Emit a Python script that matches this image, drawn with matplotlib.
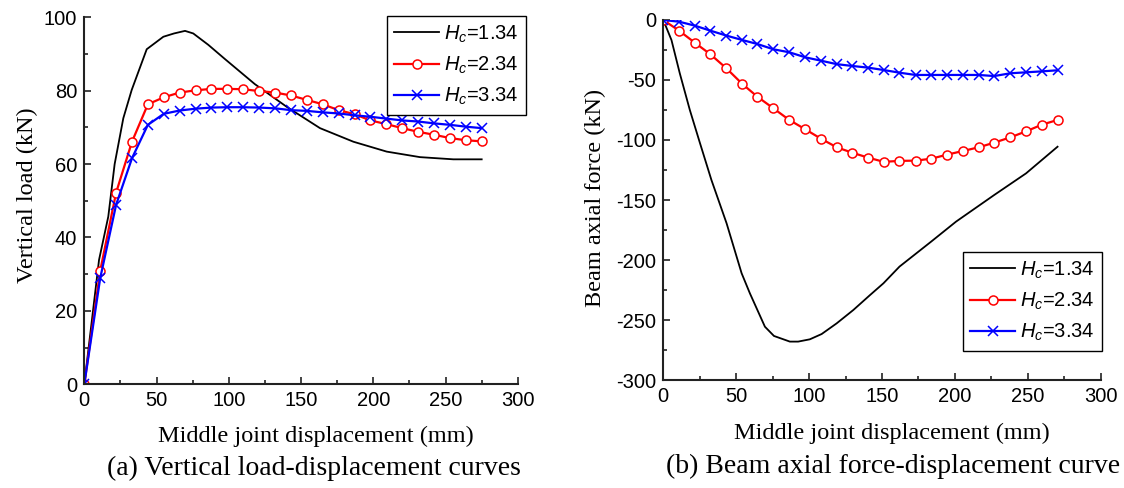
import matplotlib
matplotlib.use("Agg")
import matplotlib.pyplot as plt
from matplotlib.ticker import MultipleLocator

plt.rcParams['font.family'] = ['Liberation Sans', 'DejaVu Sans']
plt.rcParams['axes.unicode_minus'] = False
plt.rcParams['mathtext.fontset'] = 'custom'
plt.rcParams['mathtext.it'] = 'Liberation Sans:italic'
plt.rcParams['mathtext.rm'] = 'Liberation Sans'

# ---- (a) vertical load vs. displacement ----
a_x_black = [0, 10.2, 16.6, 21.0, 27.0, 32.8, 43.2, 54.7, 62.1, 69.7, 75.4, 85.8,
             97.4, 118.0, 140.1, 163.1, 186.2, 209.3, 232.3, 255.4, 275.0]
a_y_black = [0, 33.9, 45.7, 60.0, 72.5, 80.2, 91.3, 94.7, 95.6, 96.3, 95.6, 92.5,
             88.6, 81.8, 75.6, 69.8, 66.1, 63.4, 61.9, 61.3, 61.3]

a_x_marks = [0, 11, 22, 33, 44, 55, 66, 77, 88, 99, 110, 121, 132, 143, 154, 165,
             176, 187, 198, 209, 220, 231, 242, 253, 264, 275]
a_y_red = [0, 30.9, 52.2, 66.1, 76.3, 78.2, 79.5, 80.1, 80.5, 80.5, 80.4, 79.9, 79.5,
           78.7, 77.5, 76.3, 74.7, 73.6, 71.9, 70.9, 69.8, 68.8, 68.0, 67.1, 66.5, 66.2]
a_y_blue = [0, 28.9, 48.9, 61.6, 70.7, 73.7, 74.6, 75.1, 75.4, 75.5, 75.5, 75.4, 75.2,
            74.7, 74.5, 74.1, 73.8, 73.3, 72.9, 72.4, 71.9, 71.6, 71.1, 70.7, 70.2, 69.8]

# ---- (b) beam axial force vs. displacement ----
b_x_black = [0, 5.6, 11.3, 18.2, 25.0, 33.0, 43.4, 53.7, 59.4, 69.7, 75.9, 86.8,
             92.5, 100.5, 108.6, 118.9, 130.3, 141.8, 151.0, 162.0, 183.7, 200.8,
             227.0, 248.8, 270.4]
b_y_black = [0, -16.7, -44.4, -75.0, -102.0, -133.3, -169.4, -211.0, -227.8, -255.6,
             -263.3, -268.0, -268.0, -266.1, -261.7, -252.8, -241.7, -229.2, -219.4,
             -205.5, -184.7, -168.0, -145.8, -127.8, -105.6]

b_x_marks = [0, 10.8, 21.6, 32.3, 43.3, 54.2, 64.5, 75.5, 86.4, 97.4, 108.1, 119.0,
             129.6, 140.5, 151.2, 162.0, 173.0, 183.7, 194.7, 205.3, 216.3, 227.0,
             238.0, 248.8, 259.7, 270.4]
b_y_red = [0, -8.9, -18.9, -28.6, -40.3, -53.3, -63.9, -73.6, -83.3, -91.1, -98.9,
           -106.1, -110.6, -114.7, -118.2, -117.4, -117.2, -115.6, -112.2, -109.2,
           -106.1, -102.2, -97.8, -92.8, -87.2, -83.3]
b_y_blue = [0, -1.4, -4.7, -8.9, -13.0, -16.7, -20.0, -24.4, -26.9, -31.1, -33.9,
            -36.8, -38.3, -39.7, -41.7, -43.9, -45.8, -45.8, -45.8, -45.8, -45.8,
            -46.7, -44.4, -43.6, -42.8, -41.9]

labels = [r'$H_c$=1.34', r'$H_c$=2.34', r'$H_c$=3.34']

W, H = 1124, 488
fig = plt.figure(figsize=(W / 100, H / 100), dpi=100)


def px_axes(x0, y0, x1, y1):
    return fig.add_axes([x0 / W, 1 - y1 / H, (x1 - x0) / W, (y1 - y0) / H])


ax1 = px_axes(84.3, 17.3, 517.8, 384.3)
ax2 = px_axes(663.3, 20.0, 1100.7, 380.0)

serif = ['Liberation Serif', 'DejaVu Serif']


def style(ax):
    for s in ('top', 'right'):
        ax.spines[s].set_visible(False)
    for s in ('left', 'bottom'):
        ax.spines[s].set_linewidth(1.5)
        ax.spines[s].set_color('#222222')
    ax.tick_params(which='both', direction='in', color='#222222', width=1.2,
                   labelsize=14.5, pad=5)
    ax.tick_params(which='major', length=5)
    ax.tick_params(which='minor', length=3)
    ax.set_xlim(0, 300)
    ax.xaxis.set_major_locator(MultipleLocator(50))
    ax.xaxis.set_minor_locator(MultipleLocator(25))
    ax.set_xlabel('Middle joint displacement (mm)', family=serif, fontsize=17.5)


def draw(ax, xb, yb, xm, yr, yl):
    h1, = ax.plot(xb, yb, color='black', lw=1.3)
    h2, = ax.plot(xm, yr, color='red', lw=1.6, marker='o', ms=6.5,
                  mfc='white', mec='red', mew=1.1)
    h3, = ax.plot(xm, yl, color='blue', lw=1.6, marker='x', ms=6.5,
                  mec='blue', mew=1.1)
    return [h1, h2, h3]


hs1 = draw(ax1, a_x_black, a_y_black, a_x_marks, a_y_red, a_y_blue)
style(ax1)
ax1.set_ylim(0, 100)
ax1.yaxis.set_major_locator(MultipleLocator(20))
ax1.yaxis.set_minor_locator(MultipleLocator(10))
ax1.set_ylabel('Vertical load (kN)', family=serif, fontsize=17.5)
# label centres placed in figure pixels
ax1.xaxis.set_label_coords((316 - 84.3) / (517.8 - 84.3), -(436 - 384.3) / 367.0)
ax1.yaxis.set_label_coords(-(84.3 - 27) / (517.8 - 84.3), (384.3 - 195) / 367.0)

hs2 = draw(ax2, b_x_black, b_y_black, b_x_marks, b_y_red, b_y_blue)
style(ax2)
ax2.set_ylim(-300, 0)
ax2.yaxis.set_major_locator(MultipleLocator(50))
ax2.yaxis.set_minor_locator(MultipleLocator(25))
ax2.set_ylabel('Beam axial force (kN)', family=serif, fontsize=17.5)
ax2.xaxis.set_label_coords((892 - 663.3) / (1100.7 - 663.3), -(433 - 380) / 360.0)
ax2.yaxis.set_label_coords(-(663.3 - 595) / (1100.7 - 663.3), (380 - 198) / 360.0)
for ax in (ax1, ax2):
    ax.xaxis.label.set_va('center')
    ax.yaxis.label.set_va('center')

leg_kw = dict(loc='upper left', fontsize=14.5, frameon=True, fancybox=False,
              edgecolor='black', handlelength=2.2, handletextpad=0.25,
              labelspacing=0.5, borderpad=0.37, borderaxespad=0)
l1 = fig.legend(hs1, labels, bbox_to_anchor=(387 / W, 1 - 16 / H), **leg_kw)
l2 = fig.legend(hs2, labels, bbox_to_anchor=(963 / W, 1 - 252 / H), **leg_kw)
for lg in (l1, l2):
    lg.get_frame().set_linewidth(1.0)
    lg.get_frame().set_alpha(1)

fig.text(314 / W, 1 - 468 / H, '(a) Vertical load-displacement curves',
         family=serif, fontsize=20, ha='center', va='center')
fig.text(893 / W, 1 - 466 / H, '(b) Beam axial force-displacement curve',
         family=serif, fontsize=20, ha='center', va='center')

fig.savefig('out.png', dpi=100)
